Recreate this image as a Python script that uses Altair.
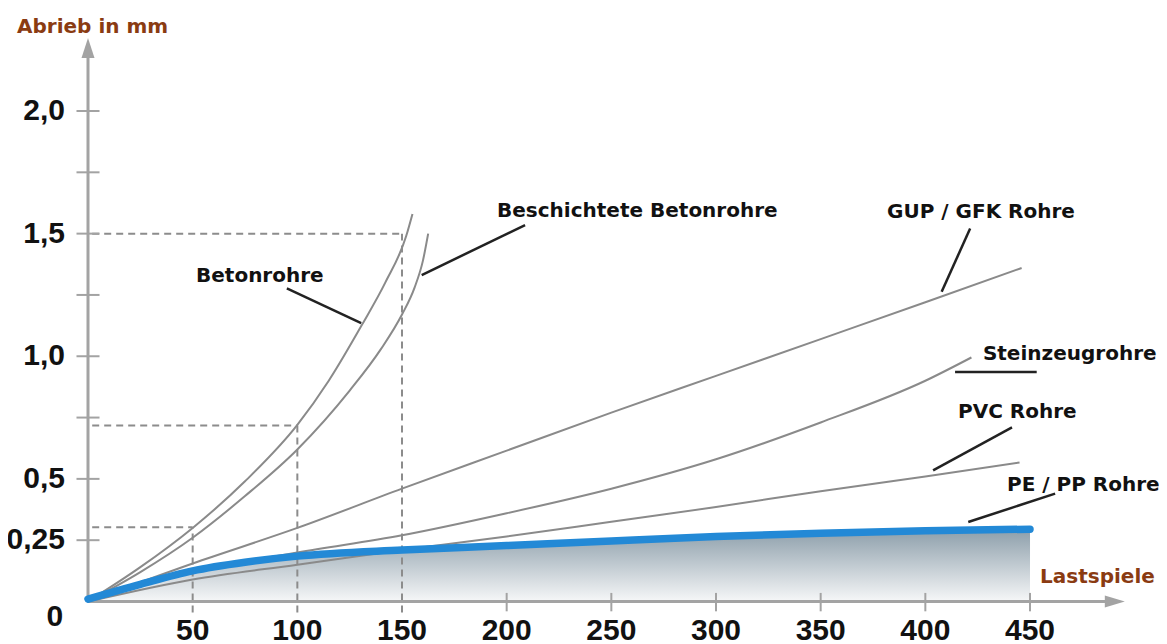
import altair as alt
import pandas as pd

# ---------------- data ----------------
beton_x = [0, 25, 50, 75, 100, 115, 131, 142, 152, 155]
beton_y = [0, 0.14, 0.30, 0.49, 0.72, 0.90, 1.13, 1.30, 1.49, 1.58]

besch_x = [0, 25, 50, 75, 100, 125, 140, 150, 156, 160, 162.5]
besch_y = [0, 0.12, 0.26, 0.43, 0.62, 0.86, 1.03, 1.17, 1.28, 1.39, 1.5]

gup_x = [0, 50, 100, 150, 200, 250, 300, 350, 400, 446]
gup_y = [0, 0.155, 0.30, 0.46, 0.615, 0.77, 0.92, 1.07, 1.22, 1.36]

stein_x = [0, 50, 100, 150, 200, 250, 300, 350, 400, 422]
stein_y = [0, 0.12, 0.20, 0.27, 0.36, 0.46, 0.58, 0.73, 0.90, 0.995]

pvc_x = [0, 50, 100, 150, 200, 250, 300, 350, 400, 445]
pvc_y = [0, 0.09, 0.15, 0.21, 0.265, 0.325, 0.385, 0.45, 0.51, 0.567]

pe_x = [0, 25, 50, 75, 100, 150, 200, 250, 300, 350, 400, 450]
pe_y = [0.01, 0.07, 0.125, 0.16, 0.185, 0.21, 0.228, 0.247, 0.265, 0.278, 0.288, 0.295]

# curve labels and leader lines
label_text = ["Betonrohre", "Beschichtete Betonrohre", "GUP / GFK Rohre",
              "Steinzeugrohre", "PVC Rohre", "PE / PP Rohre"]
label_x = [51.6, 195.4, 381.7, 427.5, 415.6, 439.0]
label_y = [1.327, 1.592, 1.588, 1.009, 0.773, 0.475]
lead_x = [95.0, 159.4, 421.4, 414.2, 441.4, 462.0]
lead_y = [1.277, 1.331, 1.521, 0.936, 0.710, 0.440]
lead_x2 = [130.5, 208.8, 407.8, 453.2, 403.7, 420.5]
lead_y2 = [1.135, 1.535, 1.263, 0.936, 0.535, 0.324]

# dashed reading guides
guide_x = [50, 100, 150]
guide_y = [0.303, 0.718, 1.5]

# axis ticks / labels
ytick_vals = [0.25, 0.5, 0.75, 1.0, 1.25, 1.5, 1.75, 2.0]
ylabel_vals = [0.25, 0.5, 1.0, 1.5, 2.0]
ylabel_text = ["0,25", "0,5", "1,0", "1,5", "2,0"]
xtick_vals = [200, 250, 300, 350, 400, 450]
xlabel_vals = [50, 100, 150, 200, 250, 300, 350, 400, 450]
xlabel_text = ["50", "100", "150", "200", "250", "300", "350", "400", "450"]

# ---------------- scales ----------------
W, H = 1151, 636
XS = alt.Scale(domain=[-38.217, 511.62], nice=False, zero=False)
YS = alt.Scale(domain=[-0.17329, 2.41998], nice=False, zero=False)


def X(f="x"):
    return alt.X(f"{f}:Q", scale=XS, axis=None)


def Y(f="y"):
    return alt.Y(f"{f}:Q", scale=YS, axis=None)


AXIS_GRAY = "#a3a3a3"
CURVE_GRAY = "#8a8a8a"
BROWN = "#8a3b12"

# area under PE/PP
pe_df = pd.DataFrame({"x": pe_x, "y": pe_y, "y0": [0.0] * len(pe_x)})
area = alt.Chart(pe_df).mark_area(
    interpolate="monotone",
    color=alt.Gradient(
        gradient="linear",
        stops=[alt.GradientStop(color="#8c9eaa", offset=0),
               alt.GradientStop(color="#f6f7f8", offset=1)],
        x1=0, x2=0, y1=0, y2=1,
    ),
).encode(x=X(), y=Y(), y2="y0:Q")

# gray curves
rows = []
for name, xs, ys in [("beton", beton_x, beton_y), ("besch", besch_x, besch_y),
                     ("gup", gup_x, gup_y), ("stein", stein_x, stein_y),
                     ("pvc", pvc_x, pvc_y)]:
    for i, (a, b) in enumerate(zip(xs, ys)):
        rows.append({"s": name, "x": a, "y": b, "o": i})
curves_df = pd.DataFrame(rows)
curves = alt.Chart(curves_df).mark_line(
    interpolate="monotone", color=CURVE_GRAY, strokeWidth=2
).encode(x=X(), y=Y(), detail="s:N", order="o:Q")

blue = alt.Chart(pe_df).mark_line(
    interpolate="monotone", color="#2389d6", strokeWidth=7.5, strokeCap="round"
).encode(x=X(), y=Y())

# dashed guides
g_rows = []
for gx, gy in zip(guide_x, guide_y):
    g_rows.append({"x": 2, "y": gy, "x2": gx, "y2": gy})
    g_rows.append({"x": gx, "y": -0.045, "x2": gx, "y2": gy})
guides = alt.Chart(pd.DataFrame(g_rows)).mark_rule(
    color="#8c8c8c", strokeWidth=2, strokeDash=[7, 5]
).encode(x=X(), y=Y(), x2="x2:Q", y2="y2:Q")

# axes
axis_df = pd.DataFrame({"x": [0, 0], "y": [0, 0], "x2": [0, 486], "y2": [2.22, 0]})
axes = alt.Chart(axis_df).mark_rule(color=AXIS_GRAY, strokeWidth=3).encode(
    x=X(), y=Y(), x2="x2:Q", y2="y2:Q")

yt_df = pd.DataFrame({"y": ytick_vals, "x": [-5.5] * len(ytick_vals),
                      "x2": [5.5] * len(ytick_vals)})
yticks = alt.Chart(yt_df).mark_rule(color=AXIS_GRAY, strokeWidth=2).encode(
    x=X(), x2="x2:Q", y=Y(), y2="y:Q")
xt_df = pd.DataFrame({"x": xtick_vals, "y": [-0.04] * len(xtick_vals),
                      "y2": [0.035] * len(xtick_vals)})
xticks = alt.Chart(xt_df).mark_rule(color=AXIS_GRAY, strokeWidth=2).encode(
    x=X(), x2="x:Q", y=Y(), y2="y2:Q")

arrow_up = alt.Chart(pd.DataFrame({"x": [0], "y": [2.257]})).mark_point(
    shape="M0,-1L0.65,1L-0.65,1Z", filled=True, color=AXIS_GRAY, opacity=1, size=400
).encode(x=X(), y=Y())
arrow_right = alt.Chart(pd.DataFrame({"x": [490.5], "y": [0]})).mark_point(
    shape="M1,0L-1,-0.6L-1,0.6Z", filled=True, color=AXIS_GRAY, opacity=1, size=400
).encode(x=X(), y=Y())

# tick labels
TICK_FONT = dict(font="Liberation Sans", fontWeight="bold", fontSize=30, color="#111111")
yl_df = pd.DataFrame({"y": ylabel_vals, "t": ylabel_text, "x": [-11.0] * len(ylabel_vals)})
ylabels = alt.Chart(yl_df).mark_text(
    align="right", baseline="middle", **TICK_FONT
).encode(x=X(), y=Y(), text="t:N")
zero_df = pd.DataFrame({"x": [-15.8], "y": [-0.064], "t": ["0"]})
zerolabel = alt.Chart(zero_df).mark_text(
    align="center", baseline="middle", **TICK_FONT
).encode(x=X(), y=Y(), text="t:N")
xl_df = pd.DataFrame({"x": xlabel_vals, "t": xlabel_text, "y": [-0.159] * len(xlabel_vals)})
xlabels = alt.Chart(xl_df).mark_text(
    align="center", baseline="alphabetic", **TICK_FONT
).encode(x=X(), y=Y(), text="t:N")

# axis titles
title_df = pd.DataFrame({"x": [-33.9, 454.8], "y": [2.343, 0.10],
                         "t": ["Abrieb in mm", "Lastspiele"]})
titles = alt.Chart(title_df).mark_text(
    align="left", baseline="middle", font="DejaVu Sans", fontWeight="bold",
    fontSize=20, color=BROWN
).encode(x=X(), y=Y(), text="t:N")

# curve labels + leaders
lab_df = pd.DataFrame({"x": label_x, "y": label_y, "t": label_text})
labels = alt.Chart(lab_df).mark_text(
    align="left", baseline="middle", font="DejaVu Sans", fontWeight="bold",
    fontSize=20, color="#111111"
).encode(x=X(), y=Y(), text="t:N")
lead_df = pd.DataFrame({"x": lead_x, "y": lead_y, "x2": lead_x2, "y2": lead_y2})
leaders = alt.Chart(lead_df).mark_rule(color="#222222", strokeWidth=2.5).encode(
    x=X(), y=Y(), x2="x2:Q", y2="y2:Q")

chart = alt.layer(
    area, guides, axes, yticks, xticks, arrow_up, arrow_right,
    curves, blue, leaders, labels, titles, ylabels, zerolabel, xlabels
).properties(
    width=W, height=H, padding=0, autosize=alt.AutoSizeParams(type="none")
).configure_view(stroke=None)

chart.save("out.html", embed_options={"renderer": "svg", "actions": False})
